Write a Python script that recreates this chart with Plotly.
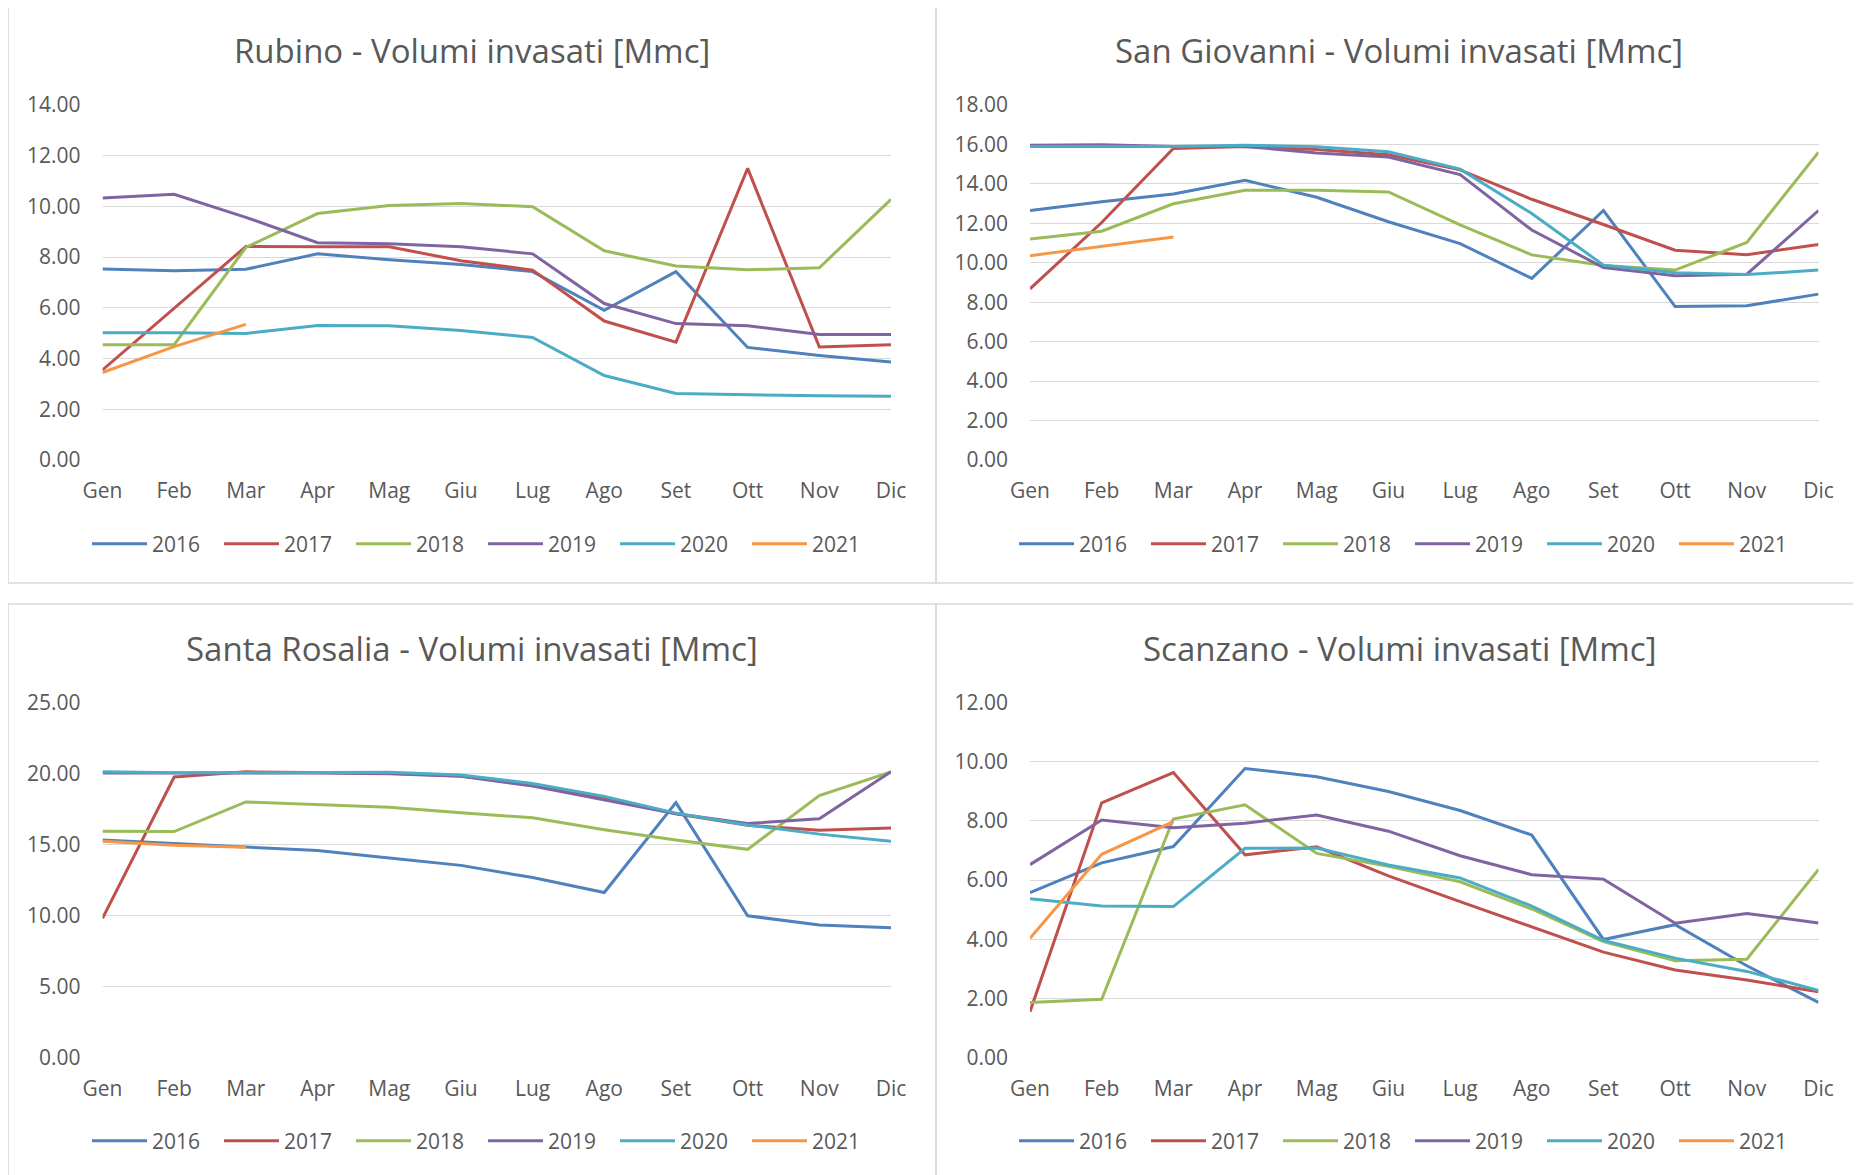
import plotly.graph_objects as go

# page body adds an 8px margin; figure is sized so it ends at the window edge
OFF = 8
FW, FH = 1861 - OFF, 1175 - OFF

months = ["Gen", "Feb", "Mar", "Apr", "Mag", "Giu", "Lug", "Ago", "Set", "Ott", "Nov", "Dic"]
years = ["2016", "2017", "2018", "2019", "2020", "2021"]
colors = ["#4F81BD", "#C0504D", "#9BBB59", "#8064A2", "#4BACC6", "#F79646"]

# Rubino
rubino_2016 = [7.53, 7.46, 7.52, 8.13, 7.90, 7.71, 7.43, 5.90, 7.43, 4.44, 4.12, 3.86]
rubino_2017 = [3.55, 5.97, 8.42, 8.41, 8.41, 7.86, 7.49, 5.48, 4.65, 11.50, 4.46, 4.55]
rubino_2018 = [4.55, 4.55, 8.38, 9.72, 10.04, 10.12, 9.99, 8.25, 7.65, 7.50, 7.58, 10.28]
rubino_2019 = [10.33, 10.48, 9.57, 8.57, 8.53, 8.41, 8.13, 6.17, 5.38, 5.29, 4.95, 4.95]
rubino_2020 = [5.02, 5.02, 4.99, 5.30, 5.29, 5.11, 4.83, 3.33, 2.62, 2.57, 2.53, 2.51]
rubino_2021 = [3.45, 4.47, 5.35]

# San Giovanni
sangiovanni_2016 = [12.65, 13.09, 13.49, 14.18, 13.32, 12.08, 10.97, 9.21, 12.65, 7.78, 7.82, 8.41]
sangiovanni_2017 = [8.68, 12.04, 15.80, 15.90, 15.75, 15.48, 14.71, 13.22, 11.94, 10.64, 10.41, 10.93]
sangiovanni_2018 = [11.20, 11.60, 12.99, 13.68, 13.68, 13.59, 11.92, 10.40, 9.86, 9.63, 11.03, 15.61]
sangiovanni_2019 = [15.96, 15.98, 15.90, 15.90, 15.57, 15.36, 14.47, 11.66, 9.76, 9.34, 9.42, 12.65]
sangiovanni_2020 = [15.90, 15.90, 15.90, 15.96, 15.88, 15.63, 14.75, 12.50, 9.88, 9.50, 9.40, 9.63]
sangiovanni_2021 = [10.36, 10.84, 11.31]

# Santa Rosalia
santarosalia_2016 = [15.31, 15.07, 14.79, 14.58, 14.05, 13.53, 12.67, 11.62, 17.95, 9.98, 9.33, 9.14]
santarosalia_2017 = [9.80, 19.75, 20.12, 20.04, 20.01, 19.83, 19.20, 18.29, 17.16, 16.35, 16.01, 16.17]
santarosalia_2018 = [15.94, 15.91, 18.00, 17.84, 17.63, 17.24, 16.88, 16.04, 15.31, 14.66, 18.44, 20.12]
santarosalia_2019 = [20.04, 20.04, 20.09, 20.04, 19.98, 19.80, 19.12, 18.16, 17.16, 16.48, 16.82, 20.12]
santarosalia_2020 = [20.12, 20.06, 20.06, 20.09, 20.09, 19.90, 19.30, 18.39, 17.21, 16.38, 15.73, 15.23]
santarosalia_2021 = [15.23, 14.94, 14.81]

# Scanzano
scanzano_2016 = [5.57, 6.58, 7.13, 9.77, 9.49, 8.99, 8.35, 7.52, 3.99, 4.49, 3.10, 1.86]
scanzano_2017 = [1.55, 8.61, 9.63, 6.85, 7.12, 6.14, 5.27, 4.41, 3.56, 2.96, 2.62, 2.22]
scanzano_2018 = [1.86, 1.97, 8.06, 8.54, 6.90, 6.46, 5.94, 5.02, 3.92, 3.27, 3.32, 6.36]
scanzano_2019 = [6.52, 8.03, 7.77, 7.92, 8.20, 7.65, 6.82, 6.18, 6.03, 4.54, 4.87, 4.55]
scanzano_2020 = [5.37, 5.12, 5.10, 7.07, 7.08, 6.51, 6.07, 5.12, 3.96, 3.36, 2.91, 2.27]
scanzano_2021 = [4.03, 6.87, 7.97]

titles = [
    "Rubino - Volumi invasati [Mmc]",
    "San Giovanni - Volumi invasati [Mmc]",
    "Santa Rosalia - Volumi invasati [Mmc]",
    "Scanzano - Volumi invasati [Mmc]",
]
y_max = [14, 18, 25, 12]
y_step = [2, 2, 5, 2]
series = [
    [rubino_2016, rubino_2017, rubino_2018, rubino_2019, rubino_2020, rubino_2021],
    [sangiovanni_2016, sangiovanni_2017, sangiovanni_2018, sangiovanni_2019, sangiovanni_2020, sangiovanni_2021],
    [santarosalia_2016, santarosalia_2017, santarosalia_2018, santarosalia_2019, santarosalia_2020, santarosalia_2021],
    [scanzano_2016, scanzano_2017, scanzano_2018, scanzano_2019, scanzano_2020, scanzano_2021],
]

# panel geometry in screen pixels
boxes = [(8, 6, 936, 583), (936, 6, 1875, 583), (8, 604, 936, 1190), (936, 604, 1875, 1190)]
plot_x = [(102.5, 891), (1030, 1818.5), (102.5, 891), (1030, 1818.5)]
plot_y = [(105, 460), (105, 460), (702.5, 1057.5), (702.5, 1057.5)]
title_pos = [(472, 50), (1399, 50), (472, 648), (1399, 648)]
legend_pos = [(483, 544), (1410, 544), (483, 1141), (1410, 1141)]

FONT = "Open Sans"
TXT = "#595959"
GRID = "#D9D9D9"


def px(x):
    return (x - OFF) / FW


def py(y):
    return 1 - (y - OFF) / FH


fig = go.Figure()
layout = dict(
    template="none",
    width=FW, height=FH, autosize=False,
    margin=dict(l=0, r=0, t=0, b=0, pad=0, autoexpand=False),
    paper_bgcolor="white", plot_bgcolor="white",
    font=dict(family=FONT, color=TXT, size=21),
    shapes=[], annotations=[],
)

for i in range(4):
    n = "" if i == 0 else str(i + 1)
    xa, ya = "x" + n, "y" + n
    leg = "legend" + n
    for j, yr in enumerate(years):
        vals = series[i][j]
        fig.add_trace(go.Scatter(
            x=months[:len(vals)], y=vals, name=yr, mode="lines",
            line=dict(color=colors[j], width=3),
            xaxis=xa, yaxis=ya, legend=leg,
            hoverinfo="skip",
        ))
    layout["xaxis" + n] = dict(
        domain=[px(plot_x[i][0]), px(plot_x[i][1])],
        anchor=ya, type="category", categoryorder="array", categoryarray=months,
        range=[0, 11], showgrid=False, zeroline=False, showline=False,
        ticks="", ticklabelstandoff=16, automargin=False,
        tickfont=dict(family=FONT, size=21, color=TXT),
        fixedrange=True,
    )
    layout["yaxis" + n] = dict(
        domain=[py(plot_y[i][1]), py(plot_y[i][0])],
        anchor=xa, range=[0, y_max[i]], dtick=y_step[i], tick0=0,
        tickformat=".2f", showgrid=True, gridcolor=GRID, gridwidth=1.3,
        zeroline=False, showline=False, ticks="", ticklabelstandoff=21,
        automargin=False,
        tickfont=dict(family=FONT, size=21, color=TXT),
        fixedrange=True,
    )
    layout[leg] = dict(
        orientation="h", x=px(legend_pos[i][0]), y=py(legend_pos[i][1]),
        xanchor="center", yanchor="middle",
        font=dict(family=FONT, size=21, color=TXT),
        bgcolor="rgba(0,0,0,0)", itemclick=False, itemdoubleclick=False,
        entrywidth=62, entrywidthmode="pixels", itemwidth=55,
    )
    x0, y0, x1, y1 = boxes[i]
    layout["shapes"].append(dict(
        type="rect", xref="paper", yref="paper",
        x0=px(x0), x1=px(x1), y0=py(y1), y1=py(y0),
        line=dict(color=GRID, width=1.6), fillcolor="rgba(0,0,0,0)", layer="below",
    ))
    layout["annotations"].append(dict(
        text=titles[i], xref="paper", yref="paper",
        x=px(title_pos[i][0]), y=py(title_pos[i][1]),
        xanchor="center", yanchor="middle", showarrow=False,
        font=dict(family=FONT, size=33, color=TXT),
    ))

fig.update_layout(**layout)
fig.write_html("out.html")
